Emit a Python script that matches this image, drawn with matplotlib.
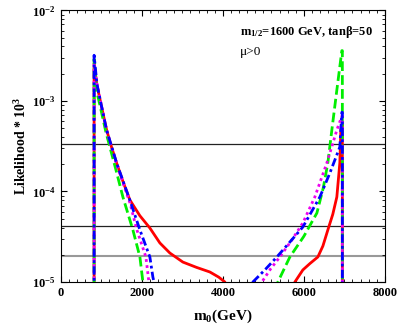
import numpy as np
import matplotlib
matplotlib.use('Agg')
import matplotlib.pyplot as plt
from matplotlib.ticker import MultipleLocator, LogLocator, NullFormatter

plt.rcParams['font.family'] = 'Liberation Serif'
plt.rcParams['font.weight'] = 'bold'
plt.rcParams['mathtext.fontset'] = 'custom'
plt.rcParams['mathtext.rm'] = 'Liberation Serif:bold'
plt.rcParams['mathtext.bf'] = 'Liberation Serif:bold'
plt.rcParams['mathtext.it'] = 'Liberation Serif:bold:italic'

# m0 (GeV) and likelihood*10^3, left and right branches
red_x = [820, 820, 889, 1000, 1128, 1250, 1375, 1530, 1704, 1950, 2197, 2444, 2691, 3012, 3350, 3679, 3900, 4049, 4100,
         5750, 5778, 5975, 6150, 6345, 6470, 6592, 6714, 6814, 6888, 6913, 6940, 6950, 6950]
red_y = [1e-6, 2.6e-3, 1.5e-3, 8.8e-4, 4.8e-4, 3.1e-4, 2.07e-4, 1.3e-4, 8.05e-5, 5.4e-5, 3.95e-5, 2.7e-5, 2.09e-5, 1.66e-5,
         1.45e-5, 1.29e-5, 1.13e-5, 1.0e-5, 8e-6,
         8e-6, 1.0e-5, 1.36e-5, 1.6e-5, 1.89e-5, 2.5e-5, 3.76e-5, 5.6e-5, 8.7e-5, 2.07e-4, 4.79e-4, 5.5e-4, 5.5e-4, 1e-6]

green_x = [820, 820, 889, 1000, 1111, 1350, 1531, 1778, 1951, 2025, 2060,
           5330, 5358, 5654, 6000, 6321, 6480, 6592, 6691, 6815, 6938, 6950, 6950]
green_y = [1e-6, 2.9e-3, 1.26e-3, 7.6e-4, 4.54e-4, 1.8e-4, 8.7e-5, 3.76e-5, 1.89e-5, 1.0e-5, 8e-6,
           8e-6, 1.0e-5, 1.89e-5, 3.2e-5, 5.78e-5, 1.1e-4, 2.07e-4, 4.79e-4, 1.33e-3, 3.6e-3, 3.6e-3, 1e-6]

mag_x = [820, 820, 889, 1000, 1128, 1375, 1704, 1877, 2099, 2173, 2200,
         4930, 4963, 5180, 5407, 5700, 5975, 6271, 6568, 6815, 6938, 6950, 6950]
mag_y = [1e-6, 2.5e-3, 1.55e-3, 8.9e-4, 4.7e-4, 2.0e-4, 7.5e-5, 3.76e-5, 1.89e-5, 1.0e-5, 8e-6,
         8e-6, 1.0e-5, 1.4e-5, 1.89e-5, 2.9e-5, 4.49e-5, 8.7e-5, 2.07e-4, 4.79e-4, 6.8e-4, 6.8e-4, 1e-6]

blue_x = [820, 820, 889, 1000, 1128, 1375, 1704, 1951, 2197, 2272, 2300, 2330,
          4710, 4741, 5050, 5333, 5650, 5975, 6395, 6642, 6888, 6938, 6950, 6950]
blue_y = [1e-6, 3.2e-3, 1.55e-3, 8.9e-4, 4.8e-4, 2.07e-4, 8.0e-5, 3.76e-5, 1.89e-5, 1.13e-5, 1.0e-5, 8e-6,
          8e-6, 1.0e-5, 1.38e-5, 1.89e-5, 2.75e-5, 4.05e-5, 8.7e-5, 1.6e-4, 3.1e-4, 7.5e-4, 7.5e-4, 1e-6]

hlines = [3.35e-4, 4.16e-5, 1.94e-5]
hline_colors = ['#222222', '#222222', '#999999']
hline_widths = [0.9, 0.9, 1.5]

fig = plt.figure(figsize=(3.98, 3.27), dpi=100)
ax = fig.add_axes([0.153, 0.1376, 0.814, 0.8304])

for yv, c, lw in zip(hlines, hline_colors, hline_widths):
    ax.axhline(yv, color=c, lw=lw, zorder=1)

ax.plot(red_x, red_y, color='red', lw=2.0, ls='-', zorder=2)
ax.plot(green_x, green_y, color='#00ee00', lw=2.0, ls=(0, (3.5, 1.5)), zorder=3)
ax.plot(mag_x, mag_y, color='#ee00ee', lw=2.0, ls=(0, (1, 1.2)), zorder=4)
ax.plot(blue_x, blue_y, color='#0000ff', lw=2.0, ls=(0, (3, 1.2, 1, 1.2)), zorder=5)

ax.set_yscale('log')
ax.set_xlim(0, 8000)
ax.set_ylim(1e-5, 1e-2)

ax.xaxis.set_major_locator(MultipleLocator(2000))
ax.xaxis.set_minor_locator(MultipleLocator(200))
ax.set_yticks([1e-5, 1e-4, 1e-3, 1e-2])
ax.set_yticklabels([r'$\mathbf{10^{-5}}$', r'$\mathbf{10^{-4}}$',
                    r'$\mathbf{10^{-3}}$', r'$\mathbf{10^{-2}}$'])
ax.yaxis.set_minor_locator(LogLocator(base=10, subs=np.arange(2, 10), numticks=20))
ax.yaxis.set_minor_formatter(NullFormatter())

ax.tick_params(which='both', direction='in', top=True, right=True, labelsize=9)
ax.tick_params(which='major', length=4, width=0.8)
ax.tick_params(which='minor', length=2, width=0.6)
for lab in ax.get_xticklabels():
    lab.set_fontweight('bold')

ax.set_xlabel(r'm$_\mathbf{0}$(GeV)', fontsize=11, fontweight='bold', labelpad=6)
ax.set_ylabel(r'Likelihood * 10$^\mathbf{3}$', fontsize=10, fontweight='bold', labelpad=2)

ax.text(0.552, 0.921, r'm$_\mathbf{1/2}$=1600 GeV, tanβ=50', transform=ax.transAxes,
        fontsize=9, fontweight='bold', va='center', ha='left')
ax.text(0.552, 0.847, 'μ>0', transform=ax.transAxes,
        fontsize=9.5, fontweight='normal', va='center', ha='left')

fig.savefig('out.png', dpi=100)
